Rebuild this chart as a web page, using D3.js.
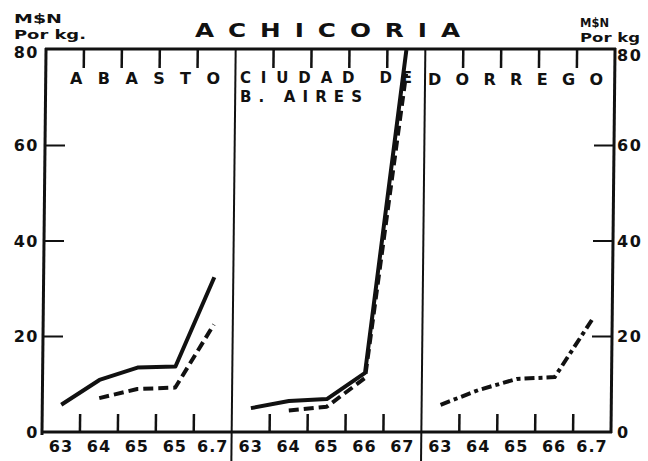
<!DOCTYPE html>
<html><head><meta charset="utf-8">
<script src="https://cdn.jsdelivr.net/npm/d3@7/dist/d3.min.js"></script>
<style>html,body{margin:0;padding:0;background:#fff;} svg{display:block}</style>
</head><body>
<svg id="chart" width="648" height="461"></svg>
<script>
// ---------- data ----------
const title = "ACHICORIA";
const unitLeft = ["M$N", "Por kg."];
const unitRight = ["M$N", "Por kg"];
const panelKeys = ["abasto", "baires", "dorrego"];
const panelLabelLines = [["ABASTO"], ["CIUDAD  DE", "B. AIRES"], ["DORREGO"]];
const yearKeys = ["63", "64", "65", "66", "67"];
const yearLabelsAbasto = ["63", "64", "65", "65", "6.7"];
const yearLabelsBaires = ["63", "64", "65", "66", "67"];
const yearLabelsDorrego = ["63", "64", "65", "66", "6.7"];
const yTickValues = [0, 20, 40, 60, 80];
const yTickLabelsLeft = ["0", "20", "40", "60", "80"];
const yTickLabelsRight = ["0", "20", "40", "60", "80"];

// M$N per kg
const abastoSolid    = [5.7, 10.9, 13.5, 13.7, 32.4];
const abastoDashed   = [null, 7.1, 9.0, 9.3, 22.5];
const bairesSolid    = [5.0, 6.5, 6.9, 12.4, 80];
const bairesDashed   = [null, 4.5, 5.3, 11.3, 75];
const dorregoDashDot = [5.7, 8.8, 11.1, 11.5, 23.9];

const panelSeries = [
  [{values: abastoSolid, style: "solid"}, {values: abastoDashed, style: "dashed"}],
  [{values: bairesSolid, style: "solid"}, {values: bairesDashed, style: "dashed"}],
  [{values: dorregoDashDot, style: "dashdot"}]
];
const panelYearLabels = [yearLabelsAbasto, yearLabelsBaires, yearLabelsDorrego];

// ---------- layout ----------
const svg = d3.select("#chart");
const ink = "#111";
const mL = 42, mR = 611, mT = 49, mB = 432;
const font = "'DejaVu Sans', sans-serif";

const y = d3.scaleLinear().domain([0, 80]).range([mB, mT + 1]);
const xPanel = d3.scaleBand().domain(panelKeys).range([mL, mR]);

const dashes = {solid: null, dashed: "10,5", dashdot: "10,4,4,4"};

// plot body, slightly sheared like the scanned original
const k = 0.0105;
const g = svg.append("g")
  .attr("transform", `translate(${k * mB},0) skewX(${-Math.atan(k) * 180 / Math.PI})`);

g.append("line").attr("x1", mL - 1).attr("x2", mR + 1).attr("y1", mT).attr("y2", mT)
  .attr("stroke", ink).attr("stroke-width", 3);
g.append("line").attr("x1", mL - 1).attr("x2", mR + 1).attr("y1", mB).attr("y2", mB)
  .attr("stroke", ink).attr("stroke-width", 3);
g.append("line").attr("x1", mL).attr("x2", mL).attr("y1", mT - 1).attr("y2", mB + 3)
  .attr("stroke", ink).attr("stroke-width", 3);
g.append("line").attr("x1", mR).attr("x2", mR).attr("y1", mT - 1).attr("y2", mB + 1)
  .attr("stroke", ink).attr("stroke-width", 3);

panelKeys.slice(1).forEach(key => {
  g.append("line").attr("x1", xPanel(key)).attr("x2", xPanel(key))
    .attr("y1", mT).attr("y2", 461)
    .attr("stroke", ink).attr("stroke-width", 2);
});

yTickValues.forEach(v => {
  if (v > 0 && v < 80) {
    g.append("line").attr("x1", mL).attr("x2", mL + 20).attr("y1", y(v)).attr("y2", y(v))
      .attr("stroke", ink).attr("stroke-width", 2);
    g.append("line").attr("x1", mR).attr("x2", mR - 20).attr("y1", y(v)).attr("y2", y(v))
      .attr("stroke", ink).attr("stroke-width", 2);
  }
});

panelKeys.forEach((key, pi) => {
  const x0 = xPanel(key), w = xPanel.bandwidth();
  const x = d3.scaleBand().domain(yearKeys).range([x0, x0 + w]);
  const cx = yk => x(yk) + x.bandwidth() / 2;
  yearKeys.slice(1).forEach(yk => {
    g.append("line").attr("x1", x(yk)).attr("x2", x(yk)).attr("y1", mB).attr("y2", mB - 18)
      .attr("stroke", ink).attr("stroke-width", 2.5);
    g.append("line").attr("x1", x(yk)).attr("x2", x(yk)).attr("y1", mT).attr("y2", mT + 19)
      .attr("stroke", ink).attr("stroke-width", 2.5);
  });
  yearKeys.forEach((yk, i) => {
    svg.append("text").attr("x", cx(yk)).attr("y", 452)
      .attr("text-anchor", "middle").attr("font-family", font).attr("font-size", 16)
      .attr("font-weight", "bold").attr("letter-spacing", 1)
      .attr("fill", ink).text(panelYearLabels[pi][i]);
  });
  panelSeries[pi].forEach(s => {
    const line = d3.line()
      .defined(d => d != null)
      .x((d, i) => cx(yearKeys[i]))
      .y(d => y(d));
    g.append("path").datum(s.values).attr("d", line)
      .attr("fill", "none").attr("stroke", ink).attr("stroke-width", 4)
      .attr("stroke-linejoin", "round")
      .attr("stroke-dasharray", dashes[s.style]);
  });
});

// y labels
yTickValues.forEach((v, i) => {
  svg.append("text").attr("x", 39).attr("y", y(v) + (v === 80 ? 2 : 0)).attr("dy", "0.36em")
    .attr("text-anchor", "end").attr("font-family", font).attr("font-size", 16)
    .attr("font-weight", "bold").attr("letter-spacing", 1.5)
    .attr("fill", ink).text(yTickLabelsLeft[i]);
  svg.append("text").attr("x", 617).attr("y", y(v) + (v === 80 ? 5 : 0)).attr("dy", "0.36em")
    .attr("text-anchor", "start").attr("font-family", font).attr("font-size", 16)
    .attr("font-weight", "bold").attr("letter-spacing", 1.5)
    .attr("fill", ink).text(yTickLabelsRight[i]);
});

// panel labels
const labelSpans = [
  [{x: 70, w: 150, y: 84, fs: 16}],
  [{x: 240, w: 172, y: 83, fs: 15}, {x: 240, w: 122, y: 101.5, fs: 15}],
  [{x: 428, w: 175, y: 85, fs: 16}]
];
panelLabelLines.forEach((lines, pi) => {
  lines.forEach((t, li) => {
    const s = labelSpans[pi][li];
    svg.append("text").attr("x", s.x).attr("y", s.y)
      .attr("textLength", s.w).attr("lengthAdjust", "spacing")
      .attr("font-family", font).attr("font-size", s.fs).attr("font-weight", "bold")
      .attr("fill", ink).text(t);
  });
});

// title (extended lettering)
const sx = 1.3;
svg.append("g").attr("transform", `translate(195,37) scale(${sx},1)`)
  .append("text").attr("x", 0).attr("y", 0)
  .attr("textLength", 265 / sx).attr("lengthAdjust", "spacing")
  .attr("font-family", font).attr("font-size", 19).attr("font-weight", "bold")
  .attr("fill", ink).text(title);

// unit labels
const unitLeftSpans = [{x: 14, y: 23, w: 48}, {x: 14, y: 38.5, w: 72}];
unitLeft.forEach((t, i) => {
  const s = unitLeftSpans[i];
  svg.append("text").attr("x", s.x).attr("y", s.y)
    .attr("textLength", s.w).attr("lengthAdjust", "spacingAndGlyphs")
    .attr("font-family", font).attr("font-size", 13).attr("font-weight", "bold")
    .attr("fill", ink).text(t);
});
const unitRightSpans = [{x: 580, y: 27, w: 29}, {x: 580, y: 41.5, w: 60}];
unitRight.forEach((t, i) => {
  const s = unitRightSpans[i];
  svg.append("text").attr("x", s.x).attr("y", s.y)
    .attr("textLength", s.w).attr("lengthAdjust", "spacingAndGlyphs")
    .attr("font-family", font).attr("font-size", 12).attr("font-weight", "bold")
    .attr("fill", ink).text(t);
});
</script>
</body></html>
